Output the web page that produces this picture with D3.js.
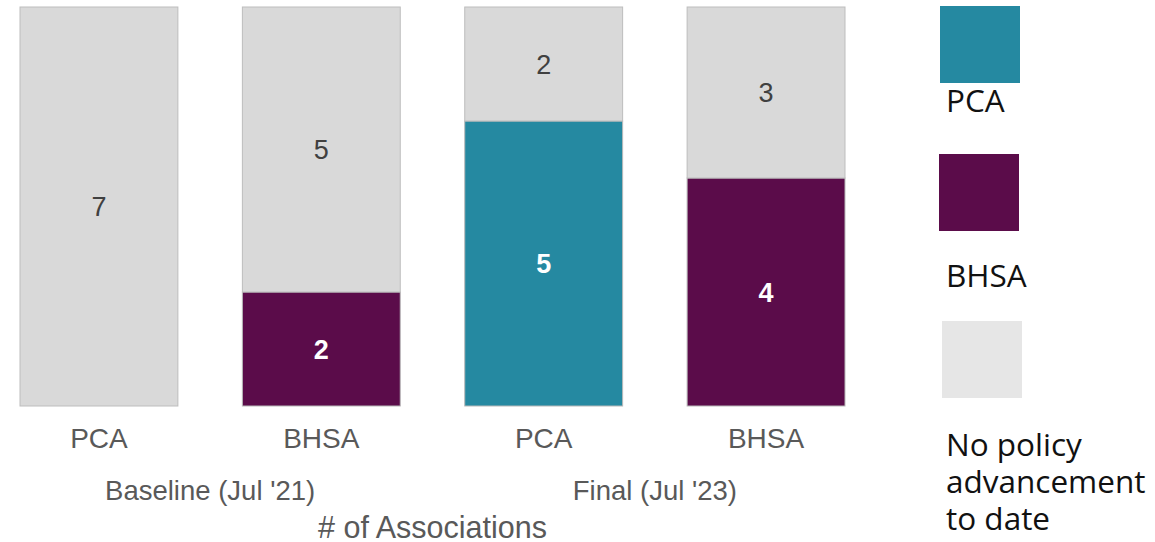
<!DOCTYPE html>
<html>
  <head>
    <meta charset="utf-8">
    <script src="https://d3js.org/d3.v7.min.js"></script>
    <style>
      body { margin: 0; background: #fff; }
      svg { display: block; }
      .tick-label, .group-label, .axis-title { font-family: "Liberation Sans", Arial, sans-serif; fill: #595959; }
      .legend text { font-family: "Open Sans", "Noto Sans", sans-serif; fill: #111; }
    </style>
  </head>
  <body>
    <script>
    // data
    var periods = ["Baseline (Jul '21)", "Final (Jul '23)"];
    var programs = ["PCA", "BHSA"];
    var advanced = [[0, 2], [5, 4]];      // associations with policy advancement
    var notAdvanced = [[7, 5], [2, 3]];   // no policy advancement to date
    var legendLabels = ["PCA", "BHSA", "No policy advancement to date"];

    var width = 1155, height = 542;
    var colors = { PCA: "#2589a1", BHSA: "#5b0c4a", none: "#d9d9d9" };

    var svg = d3.select("body").append("svg")
        .attr("width", width)
        .attr("height", height);

    // flatten into one row per bar
    var rows = [];
    periods.forEach(function (p, i) {
      programs.forEach(function (g, j) {
        rows.push({ key: p + "|" + g, period: p, program: g, adv: advanced[i][j], none: notAdvanced[i][j] });
      });
    });

    var x = d3.scaleBand()
        .domain(rows.map(function (d) { return d.key; }))
        .range([20, 845])
        .paddingInner(0.29)
        .paddingOuter(0);

    var y = d3.scaleLinear()
        .domain([0, 7])
        .range([406, 7]);

    var bars = svg.append("g").selectAll("g")
        .data(rows)
        .enter().append("g");

    // colored segment (bottom)
    bars.filter(function (d) { return d.adv > 0; })
      .append("rect")
        .attr("x", function (d) { return x(d.key); })
        .attr("width", x.bandwidth())
        .attr("y", function (d) { return y(d.adv); })
        .attr("height", function (d) { return y(0) - y(d.adv); })
        .attr("fill", function (d) { return colors[d.program]; })
        .attr("stroke", "#b8b8b8")
        .attr("stroke-width", 1);

    // gray segment (top)
    bars.append("rect")
        .attr("x", function (d) { return x(d.key); })
        .attr("width", x.bandwidth())
        .attr("y", function (d) { return y(d.adv + d.none); })
        .attr("height", function (d) { return y(d.adv) - y(d.adv + d.none); })
        .attr("fill", colors.none)
        .attr("stroke", "#bdbdbd")
        .attr("stroke-width", 1);

    // value labels
    bars.filter(function (d) { return d.adv > 0; })
      .append("text")
        .attr("x", function (d) { return x(d.key) + x.bandwidth() / 2; })
        .attr("y", function (d) { return y(d.adv / 2); })
        .attr("dy", "0.36em")
        .attr("text-anchor", "middle")
        .style("font-family", "Liberation Sans, Arial, sans-serif")
        .style("font-size", "27px")
        .style("font-weight", "bold")
        .style("fill", "#fff")
        .text(function (d) { return d.adv; });

    bars.append("text")
        .attr("x", function (d) { return x(d.key) + x.bandwidth() / 2; })
        .attr("y", function (d) { return y(d.adv + d.none / 2); })
        .attr("dy", "0.36em")
        .attr("text-anchor", "middle")
        .style("font-family", "Liberation Sans, Arial, sans-serif")
        .style("font-size", "27px")
        .style("fill", "#404040")
        .text(function (d) { return d.none; });

    // category axis
    var axis = svg.append("g")
        .attr("transform", "translate(0,406)")
        .call(d3.axisBottom(x).tickSize(0).tickPadding(0).tickFormat(function (k) { return k.split("|")[1]; }));
    axis.select(".domain").remove();
    axis.selectAll("text")
        .attr("class", "tick-label")
        .attr("y", 32)
        .attr("dy", "0.36em")
        .style("font-size", "28px");

    // period labels
    svg.append("g").selectAll("text")
        .data(periods)
        .enter().append("text")
        .attr("class", "group-label")
        .attr("x", function (p) {
          var ks = rows.filter(function (r) { return r.period === p; }).map(function (r) { return x(r.key) + x.bandwidth() / 2; });
          return d3.mean(ks);
        })
        .attr("y", 490)
        .attr("dy", "0.36em")
        .attr("text-anchor", "middle")
        .style("font-size", "27.5px")
        .text(function (p) { return p; });

    svg.append("text")
        .attr("class", "axis-title")
        .attr("x", (x.range()[0] + x.range()[1]) / 2)
        .attr("y", 527)
        .attr("dy", "0.36em")
        .attr("text-anchor", "middle")
        .style("font-size", "30.5px")
        .text("# of Associations");

    // legend
    var legend = svg.append("g").attr("class", "legend");
    var swatchColors = [colors.PCA, colors.BHSA, "#e6e6e6"];
    var swatchX = [940, 939, 942];
    var swatchY = [6, 154, 321];
    var textY = [112, 287, 456];

    legendLabels.forEach(function (lab, i) {
      legend.append("rect")
          .attr("x", swatchX[i])
          .attr("y", swatchY[i])
          .attr("width", 80)
          .attr("height", 77)
          .attr("fill", swatchColors[i]);
      var t = legend.append("text")
          .attr("x", 946)
          .attr("y", textY[i])
          .style("font-size", "31.5px");
      var lines = i === 2 ? ["No policy", "advancement", "to date"] : [lab];
      lines.forEach(function (ln, k) {
        t.append("tspan").attr("x", 946).attr("dy", k === 0 ? 0 : 37).text(ln);
      });
    });
    </script>
  </body>
</html>
